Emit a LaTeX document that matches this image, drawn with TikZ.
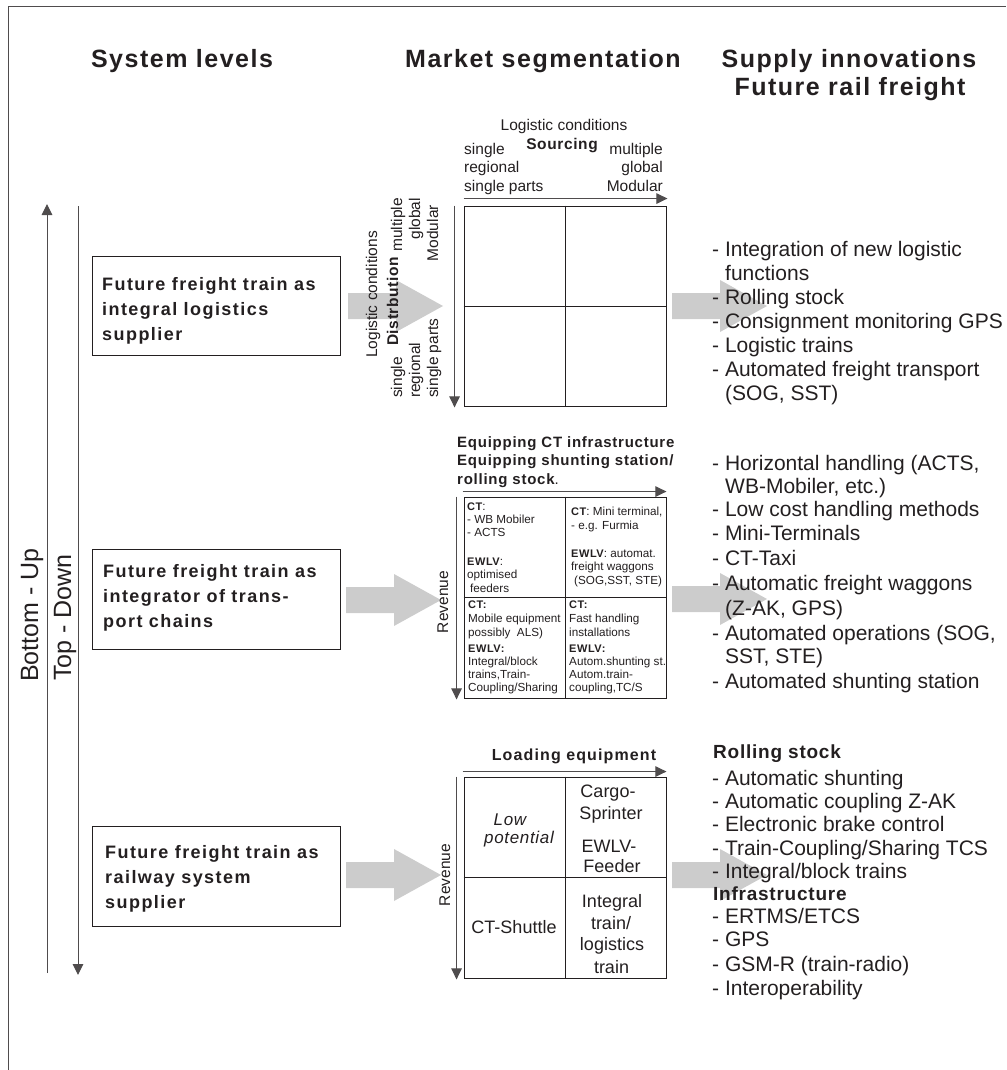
\documentclass[tikz,border=0pt]{standalone}
\usepackage{fontspec}
\setmainfont{Liberation Sans}
\newfontfamily\trkA{Liberation Sans}[LetterSpace=8]
\newfontfamily\trkB{Liberation Sans}[LetterSpace=6]
\newfontfamily\trkC{Liberation Sans}[LetterSpace=4]
\newfontfamily\trkD{Liberation Sans}[LetterSpace=7]
\newfontfamily\trkE{Liberation Sans}[LetterSpace=5]
\usetikzlibrary{arrows.meta}
\definecolor{arrowgray}{RGB}{204,204,204}
\definecolor{ink}{RGB}{35,31,32}
\newcommand\fsz[2]{\fontsize{#1}{#2}\selectfont}
\newcommand\bct[1]{{\trkE\bfseries\fsz{11}{13.6}#1}}
\newcommand\gblock[2]{\fill[arrowgray] (#1,#2) ++(0,-13) -- ++(48,0) -- ++(0,-13) -- ++(47,26) -- ++(-47,26) -- ++(0,-13) -- ++(-48,0) -- cycle;}
\begin{document}
\begin{tikzpicture}[x=1pt,y=-1pt,
  t/.style={inner sep=0pt, text=ink},
  hdr/.style={t, font=\trkB\bfseries\fsz{25}{28}, anchor=base},
  btxt/.style={t, font=\trkA\bfseries\fsz{18}{25}, anchor=base west},
  rt/.style={t, font=\fsz{21}{24}, anchor=base west},
  rtb/.style={t, font=\trkC\bfseries\fsz{19}{24}, anchor=base west},
  lab/.style={t, font=\fsz{15.5}{18}},
  labb/.style={t, font=\trkC\bfseries\fsz{15.5}{18}},
  ttl/.style={t, font=\trkE\bfseries\fsz{15}{18}, anchor=base west},
  ct/.style={t, font=\fsz{11.7}{13.6}, anchor=base west},
  cb/.style={t, font=\fsz{18}{21}, anchor=base},
  lr/.style={t, font=\fsz{25}{28}, rotate=90, anchor=base west},
  axis/.style={draw=ink!80, line width=1pt, -{Triangle[length=11pt,width=10.5pt]}},
  lbox/.style={draw=ink, line width=0.9pt, inner sep=0pt, minimum width=248},
  mbox/.style={draw=ink, line width=0.9pt, inner sep=0pt, minimum width=202},
  grid/.style={draw=ink, line width=0.9pt},
  frame/.style={draw=ink!80, line width=1pt}
]
\useasboundingbox (0,0) rectangle (1006,1070);
\draw[frame] (8,1070) -- (8,7) -- (1006,7);

% gray block arrows
\gblock{348}{306}
\gblock{346}{600}
\gblock{346}{875}
\gblock{672}{306}
\gblock{672}{599}
\gblock{672}{875}

% headers
\node[hdr] (h1) at (182,68) {System levels};
\node[hdr] (h2) at (543,68) {Market segmentation};
\node[hdr] (h3) at (849,68) {Supply innovations};
\node[hdr] (h4) at (850,96) {Future rail freight};

% left axes
\coordinate (bus) at (47,973);
\coordinate (bue) at (47,204);
\draw[axis] (bus) -- (bue);
\coordinate (tds) at (78,206);
\coordinate (tde) at (78,975);
\draw[axis] (tds) -- (tde);
\node[lr] (bu) at (38,682) {Bottom - Up};
\node[lr] (td) at (71,681) {Top - Down};

% left boxes
\node[lbox, minimum height=99] (b1) at (216,305.5) {};
\node[btxt] (b1a) at (102,290) {Future freight train as};
\node[btxt] (b1b) at (102,315) {integral logistics};
\node[btxt] (b1c) at (102,340) {supplier};

\node[lbox, minimum height=100] (b2) at (216,599) {};
\node[btxt] (b2a) at (103,577) {Future freight train as};
\node[btxt] (b2b) at (103,602) {integrator of trans-};
\node[btxt] (b2c) at (103,627) {port chains};

\node[lbox, minimum height=100] (b3) at (216,876) {};
\node[btxt] (b3a) at (105,858) {Future freight train as};
\node[btxt] (b3b) at (105,883) {railway system};
\node[btxt] (b3c) at (105,908) {supplier};

% ---------- matrix 1
\node[mbox, minimum height=200] (m1) at (565,306) {};
\draw[grid] (m1.north) -- (m1.south);
\draw[grid] (m1.west) -- (m1.east);
\draw[axis] ([yshift=7]m1.north west) -- ([yshift=7,xshift=1]m1.north east);
\draw[axis] ([xshift=-9]m1.north west) -- ([xshift=-9,yshift=-1]m1.south west);
\node[lab, anchor=base] (lc1) at (564,131) {Logistic conditions};
\node[labb, anchor=base] (src) at (562,149) {Sourcing};
\node[lab, anchor=base west] (s1) at (464,154) {single};
\node[lab, anchor=base west] (s2) at (464,172.5) {regional};
\node[lab, anchor=base west] (s3) at (464,191) {single parts};
\node[lab, anchor=base east] (mu1) at (663,154) {multiple};
\node[lab, anchor=base east] (mu2) at (663,172.5) {global};
\node[lab, anchor=base east] (mu3) at (663,191) {Modular};
\node[lab, rotate=90, anchor=base] (lc2) at (377,294.5) {Logistic conditions};
\node[labb, rotate=90, anchor=base] (dst) at (398,301.5) {Distrbution};
\node[lab, rotate=90, anchor=base east] (mv1) at (402,198) {multiple};
\node[lab, rotate=90, anchor=base east] (mv2) at (420,198) {global};
\node[lab, rotate=90, anchor=base east] (mv3) at (438,205) {Modular};
\node[lab, rotate=90, anchor=base west] (sv1) at (402,398) {single};
\node[lab, rotate=90, anchor=base west] (sv2) at (420,398) {regional};
\node[lab, rotate=90, anchor=base west] (sv3) at (438,398) {single parts};

% ---------- matrix 2
\node[mbox, minimum height=201] (m2) at (565,597.5) {};
\draw[grid] (m2.north) -- (m2.south);
\draw[grid] (m2.west) -- (m2.east);
\draw[axis] ([yshift=5,xshift=-1]m2.north west) -- ([yshift=5]m2.north east);
\draw[axis] ([xshift=-7]m2.north west) -- ([xshift=-7,yshift=-1]m2.south west);
\node[ttl] (e1) at (457,447) {Equipping CT infrastructure};
\node[ttl] (e2) at (457,465.5) {Equipping shunting station/};
\node[ttl] (e3) at (457,484) {rolling stock{\mdseries.}};
\node[lab, rotate=90, anchor=base] (rv2) at (448,602) {Revenue};
% TL
\node[ct] (c11) at (467,510) {\bct{CT}:};
\node[ct] (c12) at (467,523) {- WB Mobiler};
\node[ct] (c13) at (467,536) {- ACTS};
\node[ct] (c14) at (467,565) {\bct{EWLV}:};
\node[ct] (c15) at (467,578) {optimised};
\node[ct] (c16) at (470,592) {feeders};
% TR
\node[ct] (c21) at (571,515) {\bct{CT}: Mini terminal,};
\node[ct] (c22) at (571,529) {- e.g. Furmia};
\node[ct] (c23) at (571,557) {\bct{EWLV}: automat.};
\node[ct] (c24) at (571,570) {freight waggons};
\node[ct] (c25) at (574,584) {(SOG,SST, STE)};
% BL
\node[ct] (c31) at (468,608) {\bct{CT:}};
\node[ct] (c32) at (468,622) {Mobile equipment};
\node[ct] (c33) at (468,636) {possibly\ \ ALS)};
\node[ct] (c34) at (468,652) {\bct{EWLV:}};
\node[ct] (c35) at (468,665) {Integral/block};
\node[ct] (c36) at (468,678) {trains,Train-};
\node[ct] (c37) at (468,691) {Coupling/Sharing};
% BR
\node[ct] (c41) at (569,608) {\bct{CT:}};
\node[ct] (c42) at (569,622) {Fast handling};
\node[ct] (c43) at (569,636) {installations};
\node[ct] (c44) at (569,652) {\bct{EWLV:}};
\node[ct] (c45) at (569,665) {Autom.shunting st.};
\node[ct] (c46) at (569,678) {Autom.train-};
\node[ct] (c47) at (569,691) {coupling,TC/S};

% ---------- matrix 3
\node[mbox, minimum height=201] (m3) at (565,877.5) {};
\draw[grid] (m3.north) -- (m3.south);
\draw[grid] (m3.west) -- (m3.east);
\draw[axis] ([yshift=5,xshift=-1]m3.north west) -- ([yshift=5]m3.north east);
\draw[axis] ([xshift=-7]m3.north west) -- ([xshift=-7,yshift=-1]m3.south west);
\node[t, font=\trkD\bfseries\fsz{16}{18}, anchor=base] (le) at (574,760) {Loading equipment};
\node[lab, rotate=90, anchor=base] (rv3) at (450,875) {Revenue};
\node[t, font=\trkC\itshape\fsz{17}{19}, anchor=base] (lp1) at (510,825) {Low};
\node[t, font=\trkC\itshape\fsz{17}{19}, anchor=base] (lp2) at (519,843) {potential};
\node[cb] (cg1) at (608,797) {Cargo-};
\node[cb] (cg2) at (611,819.5) {Sprinter};
\node[cb] (ew1) at (609,852.5) {EWLV-};
\node[cb] (ew2) at (612,872.5) {Feeder};
\node[cb] (cts) at (514,933) {CT-Shuttle};
\node[cb] (it1) at (612,907) {Integral};
\node[cb] (it2) at (611,929) {train/};
\node[cb] (it3) at (612,950) {logistics};
\node[cb] (it4) at (611.5,973) {train};

% ---------- right lists
\node[rt] (r1a) at (712,256) {- Integration of new logistic};
\node[rt] (r1b) at (725,280) {functions};
\node[rt] (r1c) at (712,304) {- Rolling stock};
\node[rt] (r1d) at (712,328) {- Consignment monitoring GPS};
\node[rt] (r1e) at (712,352) {- Logistic trains};
\node[rt] (r1f) at (712,376) {- Automated freight transport};
\node[rt] (r1g) at (725,400) {(SOG, SST)};

\node[rt] (r2a) at (712,470) {- Horizontal handling (ACTS,};
\node[rt] (r2b) at (725,493) {WB-Mobiler, etc.)};
\node[rt] (r2c) at (712,516) {- Low cost handling methods};
\node[rt] (r2d) at (712,540) {- Mini-Terminals};
\node[rt] (r2e) at (712,565) {- CT-Taxi};
\node[rt] (r2f) at (712,590) {- Automatic freight waggons};
\node[rt] (r2g) at (725,615) {(Z-AK, GPS)};
\node[rt] (r2h) at (712,640) {- Automated operations (SOG,};
\node[rt] (r2i) at (725,663) {SST, STE)};
\node[rt] (r2j) at (712,688) {- Automated shunting station};

\node[rtb] (r3a) at (713,758) {Rolling stock};
\node[rt] (r3b) at (712,785) {- Automatic shunting};
\node[rt] (r3c) at (712,808) {- Automatic coupling Z-AK};
\node[rt] (r3d) at (712,831) {- Electronic brake control};
\node[rt] (r3e) at (712,855) {- Train-Coupling/Sharing TCS};
\node[rt] (r3f) at (712,878) {- Integral/block trains};
\node[rtb] (r3g) at (713,900) {Infrastructure};
\node[rt] (r3h) at (712,923) {- ERTMS/ETCS};
\node[rt] (r3i) at (712,946) {- GPS};
\node[rt] (r3j) at (712,971) {- GSM-R (train-radio)};
\node[rt] (r3k) at (712,995) {- Interoperability};
\end{tikzpicture}
\end{document}
